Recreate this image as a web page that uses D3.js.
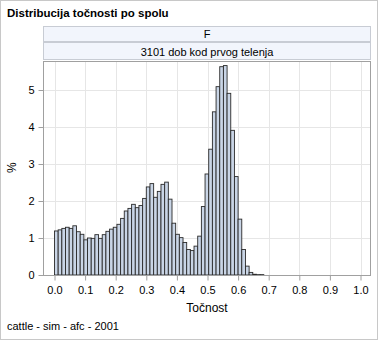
<!DOCTYPE html>
<html>
<head>
<meta charset="utf-8">
<script src="https://cdn.jsdelivr.net/npm/d3@7"></script>
<style>
  html, body { margin: 0; padding: 0; background: #fff; }
  svg { display: block; font-family: "Liberation Sans", Arial, sans-serif; }
</style>
</head>
<body>
<svg id="chart" width="378" height="340"></svg>
<script>
// Histogram of accuracy (Točnost), percent of animals per bin
const binWidth = 0.012;
const percents = [
  1.19, 1.22, 1.26, 1.29, 1.26, 1.33, 1.17, 1.10, 0.95, 1.00,
  0.99, 1.09, 0.99, 1.09, 1.18, 1.24, 1.29, 1.37, 1.53, 1.73,
  1.80, 1.91, 1.82, 1.88, 2.07, 2.38, 2.47, 2.10, 2.26, 2.45,
  2.51, 2.05, 1.40, 1.10, 1.01, 0.88, 0.69, 0.66, 0.78, 1.05,
  1.85, 2.73, 3.40, 4.41, 5.09, 5.63, 5.66, 4.91, 3.91, 2.66,
  1.51, 0.69, 0.24, 0.07, 0.02, 0.01, 0.01, 0, 0, 0,
  0, 0, 0, 0, 0, 0, 0, 0, 0, 0,
  0, 0, 0, 0, 0, 0, 0, 0, 0, 0,
  0, 0, 0
];
const xTicks = [0, 0.1, 0.2, 0.3, 0.4, 0.5, 0.6, 0.7, 0.8, 0.9, 1.0];
const yTicks = [0, 1, 2, 3, 4, 5];
const title = "Distribucija točnosti po spolu";
const panelLabels = ["F", "3101 dob kod prvog telenja"];
const xLabel = "Točnost";
const yLabel = "%";
const footnote = "cattle - sim - afc - 2001";

const svg = d3.select("#chart");
const W = 378, H = 340;
const frame = { left: 43, right: 371, top: 61, bottom: 276 };

// outer border
svg.append("rect").attr("x", 0.5).attr("y", 0.5).attr("width", W - 1).attr("height", H - 1)
  .attr("fill", "#fff").attr("stroke", "#c8c8c8");

svg.append("text").attr("x", 7).attr("y", 17)
  .attr("font-size", 11.5).attr("font-weight", "bold").attr("fill", "#000").text(title);

// panel header cells
const cells = [{ top: 26, h: 15 }, { top: 42, h: 17 }];
panelLabels.forEach((lab, i) => {
  const c = cells[i];
  svg.append("rect").attr("x", frame.left + 0.5).attr("y", c.top + 0.5)
    .attr("width", frame.right - frame.left - 1).attr("height", c.h)
    .attr("fill", "#f2f5fc").attr("stroke", "#c8ccd4");
  svg.append("text").attr("x", (frame.left + frame.right) / 2).attr("y", c.top + c.h - 3.5)
    .attr("text-anchor", "middle").attr("font-size", 11).attr("fill", "#000").text(lab);
});

const x = d3.scaleLinear().domain([0, 1]).range([54.5, 360.5]);
const y = d3.scaleLinear().domain([0, 5]).range([275, 90]);

// grid
const g = svg.append("g");
g.selectAll("line.vg").data(xTicks).join("line")
  .attr("x1", d => Math.round(x(d)) + 0.5).attr("x2", d => Math.round(x(d)) + 0.5)
  .attr("y1", frame.top).attr("y2", frame.bottom)
  .attr("stroke", "#e6e6e6");
g.selectAll("line.hg").data(yTicks.filter(d => d > 0)).join("line")
  .attr("x1", frame.left).attr("x2", frame.right)
  .attr("y1", d => Math.round(y(d)) + 0.5).attr("y2", d => Math.round(y(d)) + 0.5)
  .attr("stroke", "#e6e6e6");

// bars
svg.append("g").selectAll("rect").data(percents).join("rect")
  .attr("x", (d, i) => x(i * binWidth))
  .attr("width", (d, i) => x((i + 1) * binWidth) - x(i * binWidth))
  .attr("y", d => y(d))
  .attr("height", d => y(0) - y(d))
  .attr("fill", "#c9d5e6")
  .attr("stroke", "#2a2a2a")
  .attr("stroke-width", 0.9);

// frame
svg.append("rect").attr("x", frame.left + 0.5).attr("y", frame.top + 0.5)
  .attr("width", frame.right - frame.left - 1).attr("height", frame.bottom - frame.top - 1)
  .attr("fill", "none").attr("stroke", "#a0a0a0");

// axes
const xAxis = d3.axisBottom(x).tickValues(xTicks).tickFormat(d3.format(".1f"))
  .tickSize(5).tickPadding(6);
const xa = svg.append("g").attr("transform", `translate(0,${frame.bottom - 0.5})`).call(xAxis);
xa.select(".domain").remove();
xa.selectAll(".tick line").attr("stroke", "#a0a0a0");
xa.selectAll(".tick text").attr("font-size", 11).attr("fill", "#000")
  .attr("font-family", "Liberation Sans, Arial, sans-serif");

const yAxis = d3.axisLeft(y).tickValues(yTicks).tickFormat(d3.format("d"))
  .tickSize(5).tickPadding(4);
const ya = svg.append("g").attr("transform", `translate(${frame.left + 0.5},0)`).call(yAxis);
ya.select(".domain").remove();
ya.selectAll(".tick line").attr("stroke", "#a0a0a0");
ya.selectAll(".tick text").attr("font-size", 11).attr("fill", "#000")
  .attr("font-family", "Liberation Sans, Arial, sans-serif");

svg.append("text").attr("x", (frame.left + frame.right) / 2).attr("y", 312)
  .attr("text-anchor", "middle").attr("font-size", 12).attr("fill", "#000").text(xLabel);
svg.append("text").attr("transform", `translate(16,${y(2.9)}) rotate(-90)`)
  .attr("text-anchor", "middle").attr("font-size", 12).attr("fill", "#000").text(yLabel);

svg.append("text").attr("x", 7).attr("y", 330)
  .attr("font-size", 11).attr("fill", "#000").text(footnote);
</script>
</body>
</html>
